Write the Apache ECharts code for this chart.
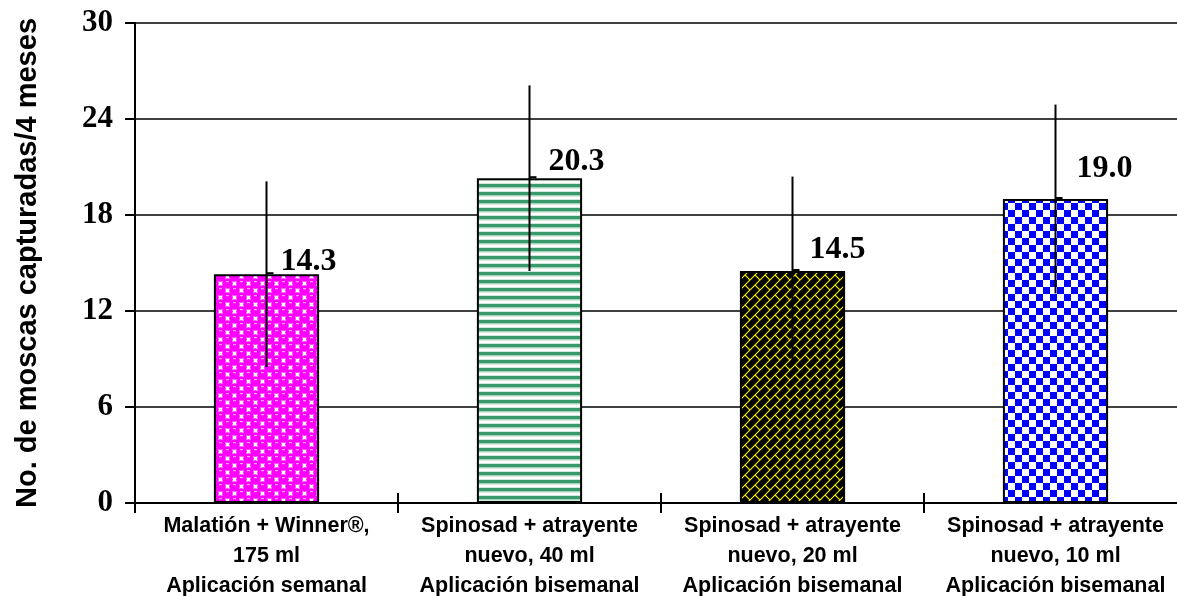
<!DOCTYPE html>
<html>
<head>
<meta charset="utf-8">
<script src="https://cdn.jsdelivr.net/npm/echarts@6/dist/echarts.min.js"></script>
<style>
html,body{margin:0;padding:0;background:#fff;overflow:hidden;}
#c{width:1177px;height:596px;}
</style>
</head>
<body>
<div id="c"></div>
<script>
// ---- data ----
const categories = [
  'Malatión + Winner®,\n175 ml\nAplicación semanal',
  'Spinosad + atrayente\nnuevo, 40 ml\nAplicación bisemanal',
  'Spinosad + atrayente\nnuevo, 20 ml\nAplicación bisemanal',
  'Spinosad + atrayente\nnuevo, 10 ml\nAplicación bisemanal'
];
const means = [14.3, 20.3, 14.5, 19.0];
const errors = [5.8, 5.8, 5.9, 5.9];
const yTicks = [0, 6, 12, 18, 24, 30];
const yTitle = 'No. de moscas capturadas/4 meses';

// ---- label placement (style only) ----
const labelDx = [42, 47, 45, 49];
const labelLift = [3, 7, 12, 21];

// ---- patterns ----
function tile(w, h, draw) {
  const c = document.createElement('canvas');
  c.width = w; c.height = h;
  const ctx = c.getContext('2d');
  draw(ctx, w, h);
  return c;
}
const patMagenta = tile(14, 14, (ctx) => {
  ctx.fillStyle = '#ffffff'; ctx.fillRect(0, 0, 14, 14);
  const pts = [[3.5,3.5],[10.5,10.5],[10.5,-3.5],[-3.5,10.5],[17.5,3.5],[3.5,17.5]];
  pts.forEach(([x,y]) => {
    ctx.fillStyle = '#ff00ff';
    ctx.beginPath(); ctx.arc(x, y, 5.3, 0, Math.PI*2); ctx.fill();
  });
  pts.forEach(([x,y]) => {
    ctx.fillStyle = '#ffa8ff';
    ctx.fillRect(x-1.5, y-2.5, 3, 1.2);
  });
});
const patGreen = tile(8, 8, (ctx) => {
  ctx.fillStyle = '#ffffff'; ctx.fillRect(0, 0, 8, 8);
  ctx.fillStyle = '#3a9a6b'; ctx.fillRect(0, 0, 8, 3.5);
  ctx.fillStyle = '#a9d9bf'; ctx.fillRect(0, 3.5, 8, 1);
  ctx.fillStyle = '#cfeadb'; ctx.fillRect(0, 7, 8, 1);
});
const patYellow = tile(10, 10, (ctx) => {
  ctx.fillStyle = '#000000'; ctx.fillRect(0, 0, 10, 10);
  ctx.strokeStyle = '#f2ea00'; ctx.lineWidth = 1.2;
  ctx.beginPath();
  ctx.moveTo(-2, 12); ctx.lineTo(12, -2);
  ctx.moveTo(-2, 2); ctx.lineTo(2, -2);
  ctx.moveTo(8, 22); ctx.lineTo(22, 8);
  ctx.moveTo(5, 5); ctx.lineTo(10, 10);
  ctx.moveTo(-5, 5); ctx.lineTo(0, 10);
  ctx.moveTo(5, -5); ctx.lineTo(10, 0);
  ctx.stroke();
});
const patBlue = tile(14, 14, (ctx) => {
  ctx.fillStyle = '#ffffff'; ctx.fillRect(0, 0, 14, 14);
  ctx.fillStyle = '#0000ff';
  ctx.fillRect(0, 0, 7, 7); ctx.fillRect(7, 7, 7, 7);
});
const patterns = [patMagenta, patGreen, patYellow, patBlue];

const chart = echarts.init(document.getElementById('c'), null, {renderer: 'canvas'});

const barData = means.map((v, i) => ({
  value: v,
  itemStyle: { color: { image: patterns[i], repeat: 'repeat' } },
  label: { offset: [labelDx[i], -labelLift[i] + 7] }
}));

const errData = means.map((v, i) => [i, v - errors[i], v + errors[i], v]);

const option = {
  animation: false,
  backgroundColor: '#ffffff',
  grid: { left: 135, top: 23, width: 1052, height: 480, containLabel: false, outerBoundsMode: 'none' },
  xAxis: [{
    type: 'category',
    data: categories,
    boundaryGap: true,
    axisLine: { lineStyle: { color: '#000', width: 2 } },
    axisTick: { show: true, length: 10, lineStyle: { color: '#000', width: 2 } },
    axisLabel: {
      interval: 0, margin: 8, color: '#000',
      fontFamily: 'Liberation Sans, Arial', fontWeight: 'bold',
      fontSize: 21.5, lineHeight: 30
    },
    splitLine: { show: false }
  }, {
    type: 'category',
    data: categories,
    position: 'bottom',
    boundaryGap: true,
    axisLine: { show: false },
    axisTick: { show: true, inside: true, length: 10, lineStyle: { color: '#000', width: 2 } },
    axisLabel: { show: false },
    splitLine: { show: false }
  }],
  yAxis: {
    type: 'value',
    min: 0, max: 30, interval: 6,
    name: yTitle,
    nameLocation: 'middle',
    nameRotate: 90,
    nameGap: 93,
    nameTextStyle: {
      fontFamily: 'Liberation Sans, Arial', fontWeight: 'bold', fontSize: 29, color: '#000'
    },
    axisLine: { show: true, lineStyle: { color: '#000', width: 2 } },
    axisTick: { show: true, length: 10, lineStyle: { color: '#000', width: 2 } },
    axisLabel: {
      margin: 22, color: '#000',
      fontFamily: 'Liberation Serif, Times New Roman', fontWeight: 'bold', fontSize: 31,
      formatter: (v) => yTicks.indexOf(v) >= 0 ? String(v) : ''
    },
    splitLine: { show: true, lineStyle: { color: '#000', width: 1.5 } }
  },
  series: [{
    type: 'bar',
    data: barData,
    barWidth: '40%',
    itemStyle: { borderColor: '#000', borderWidth: 2 },
    label: {
      show: true, position: 'top', distance: 0, color: '#000',
      fontFamily: 'Liberation Serif, Times New Roman', fontWeight: 'bold', fontSize: 32,
      formatter: (p) => p.value.toFixed(1)
    },
    z: 2
  }, {
    type: 'custom',
    data: errData,
    z: 5,
    renderItem: (params, api) => {
      const x = api.value(0);
      const lo = api.coord([x, api.value(1)]);
      const hi = api.coord([x, api.value(2)]);
      const mid = api.coord([x, api.value(3)]);
      return {
        type: 'group',
        children: [{
          type: 'line',
          shape: { x1: lo[0], y1: lo[1], x2: hi[0], y2: hi[1] },
          style: { stroke: '#000', lineWidth: 2 }
        }, {
          type: 'line',
          shape: { x1: mid[0], y1: mid[1] - 1, x2: mid[0] + 7, y2: mid[1] - 1 },
          style: { stroke: '#000', lineWidth: 2 }
        }]
      };
    }
  }]
};
chart.setOption(option);
</script>
</body>
</html>
